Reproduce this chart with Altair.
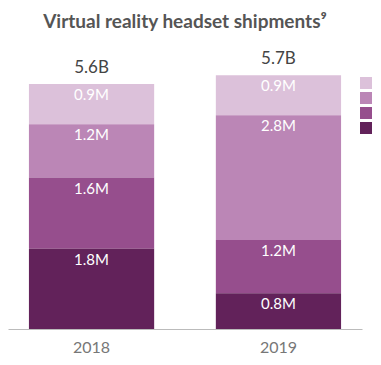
import altair as alt
import pandas as pd

years = ["2018", "2019"]
categories = ["PC", "Standalone", "Console", "Mobile"]
shipments_2018 = [0.9, 1.2, 1.6, 1.8]
shipments_2019 = [0.9, 2.8, 1.2, 0.8]
total_labels = ["5.6B", "5.7B"]
colors = ["#dcc1da", "#bb86b6", "#964e8d", "#62225a"]

rows = []
for yr, vals in zip(years, [shipments_2018, shipments_2019]):
    for i, (c, v) in enumerate(zip(categories, vals)):
        rows.append({"year": yr, "category": c, "value": v, "order": i, "label": f"{v:.1f}M"})
df = pd.DataFrame(rows)
totals = pd.DataFrame({
    "year": years,
    "total": [sum(shipments_2018), sum(shipments_2019)],
    "label": total_labels,
})

x_enc = alt.X(
    "year:N",
    scale=alt.Scale(paddingInner=0.33, paddingOuter=0.112),
    axis=alt.Axis(title=None, labelAngle=0, ticks=False, domainColor="#bbbbbb",
                  labelColor="#777777", labelFontSize=16, labelFont="Lato",
                  labelPadding=10),
)
y_scale = alt.Scale(domain=[0, 6.31])

base = alt.Chart(df).transform_stack(
    stack="value", as_=["y1", "y2"], groupby=["year"],
    sort=[alt.SortField("order", order="descending")],
)

bars = base.mark_bar().encode(
    x=x_enc,
    y=alt.Y("y1:Q", scale=y_scale, axis=None),
    y2="y2:Q",
    color=alt.Color(
        "category:N",
        scale=alt.Scale(domain=categories, range=colors),
        legend=alt.Legend(orient="none", legendX=352, legendY=29, title=None,
                          symbolType="square", symbolSize=144, symbolStrokeWidth=0,
                          labelFontSize=12, labelColor="#777777", rowPadding=3,
                          padding=0, labelFont="Lato"),
    ),
)

seg_text = base.mark_text(baseline="top", dy=4, color="white", fontSize=15, font="Lato").encode(
    x=x_enc,
    y=alt.Y("y2:Q", scale=y_scale, axis=None),
    text="label:N",
)

total_text = alt.Chart(totals).mark_text(baseline="bottom", dy=-7, fontSize=17,
                                         color="#444444", font="Lato").encode(
    x=x_enc,
    y=alt.Y("total:Q", scale=y_scale, axis=None),
    text="label:N",
)

chart = alt.layer(bars, seg_text, total_text).properties(
    width=354,
    height=281,
    title=alt.TitleParams("Virtual reality headset shipments⁹", fontSize=19, font="Lato",
                          fontWeight="bold", color="#555555", anchor="middle", dy=-12),
    autosize=alt.AutoSizeParams(type="none"),
    padding={"left": 0, "right": 11, "top": 40, "bottom": 28},
).configure_view(stroke=None)

chart.save("out.html", embed_options={"renderer": "svg", "actions": False})
